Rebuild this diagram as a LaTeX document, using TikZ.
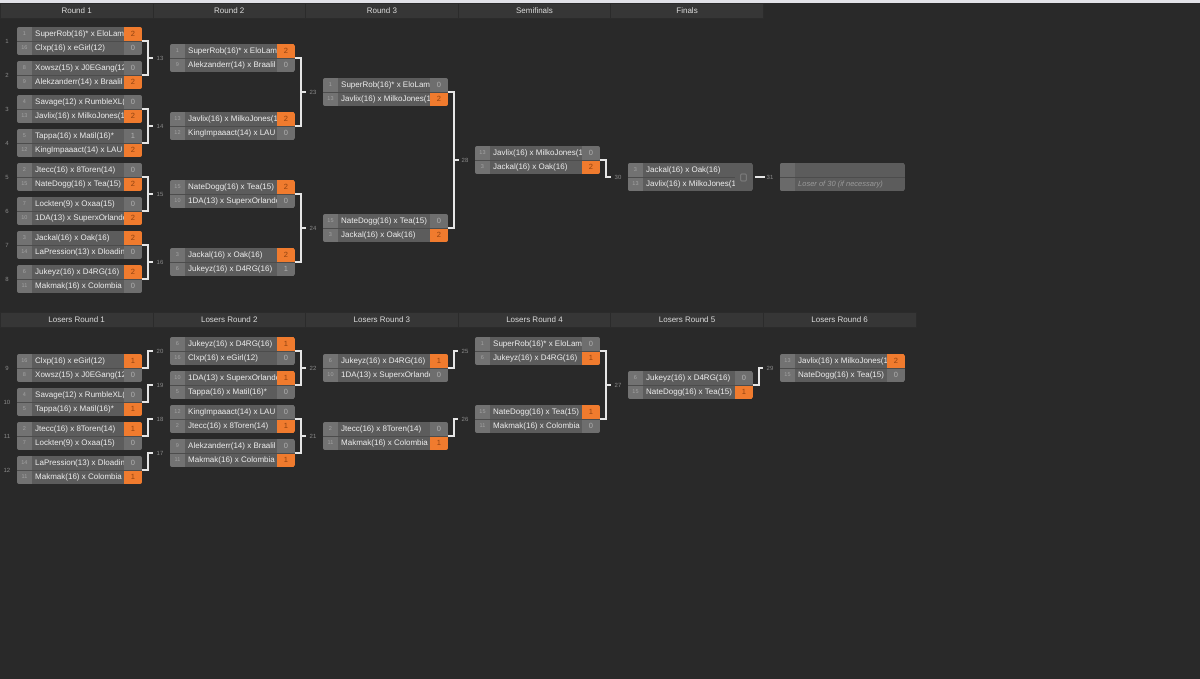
\documentclass[tikz,border=0pt]{standalone}
\usepackage{fontspec}
\setmainfont{Liberation Sans}
\usetikzlibrary{calc}
\definecolor{bg}{HTML}{292929}
\definecolor{topc}{HTML}{E2E2E8}
\definecolor{hdr}{HTML}{363636}
\definecolor{hdrline}{HTML}{2B2B2B}
\definecolor{seedc}{HTML}{727272}
\definecolor{namec}{HTML}{5C5C5C}
\definecolor{losec}{HTML}{6E6E6E}
\definecolor{winc}{HTML}{F07B2E}
\definecolor{wint}{HTML}{8F4210}
\definecolor{loset}{HTML}{B0B0B0}
\definecolor{seedt}{HTML}{A4A4A4}
\definecolor{namet}{HTML}{EEEEEE}
\definecolor{lblc}{HTML}{8A8A8A}
\definecolor{brk}{HTML}{E6E6E6}
\definecolor{sepc}{HTML}{4C4C4C}
\definecolor{hdrt}{HTML}{DCDCDC}
\definecolor{emptyseed}{HTML}{6A6A6A}
\definecolor{losert}{HTML}{9A9A9A}
\newcount\rowc
\tikzset{
  mbox/.style={anchor=north west, minimum width=125pt, minimum height=28pt, inner sep=0pt, outer sep=0pt},
  mlbl/.style={font=\fontsize{6}{7}\selectfont, text=lblc, inner sep=0pt},
  seedtext/.style={font=\fontsize{5.5}{6}\selectfont, text=seedt, inner sep=0pt},
  nametext/.style={anchor=base west, font=\fontsize{8}{9.6}\selectfont, text=namet, inner sep=0pt},
  wintext/.style={font=\fontsize{7.5}{8}\selectfont, text=wint, inner sep=0pt},
  losetext/.style={font=\fontsize{7.5}{8}\selectfont, text=loset, inner sep=0pt},
  bline/.style={draw=brk, line width=1.2pt},
  sepline/.style={draw=sepc, line width=0.6pt},
  hdrcell/.style={fill=hdr, draw=hdrline, line width=0.8pt, anchor=north west, minimum width=152.6pt, minimum height=15pt, inner sep=0pt, font=\fontsize{8}{9}\selectfont, text=hdrt},
}
\newcommand\mopen[3]{%
  \node[mbox] (m#1) at (#2,#3) {};
  \node[mlbl] (l#1) at ([xshift=-10pt]m#1.west) {#1};
  \begin{scope}
  \clip[rounded corners=2pt] (#2,#3) rectangle ++(125,28);
  \def\cx{#2}\def\cy{#3}%
}
\newcommand\mclose{\draw[sepline] (\cx,\cy+14) -- ++(125,0); \end{scope}}
\newcommand\mrow[5]{%
  \global\advance\rowc by 1\relax
  \fill[seedc] (\cx,\cy+#1) rectangle ++(15,14);
  \fill[namec] (\cx+15,\cy+#1) rectangle ++(92,14);
  \ifnum#5=1 
    \fill[winc] (\cx+107,\cy+#1) rectangle ++(18,14);
    \node[wintext] (c\the\rowc) at (\cx+116,\cy+#1+7) {#4};
  \else
    \fill[losec] (\cx+107,\cy+#1) rectangle ++(18,14);
    \node[losetext] (c\the\rowc) at (\cx+116,\cy+#1+7) {#4};
  \fi
  \node[seedtext] (s\the\rowc) at (\cx+7.5,\cy+#1+7) {#2};
  \begin{scope}
  \clip (\cx+15,\cy+#1) rectangle ++(91.5,14);
  \node[nametext] (n\the\rowc) at (\cx+18,\cy+#1+9.8) {#3};
  \end{scope}
}
\newcommand\pairbr[2]{%
  \draw[bline] (#1.east) -- ++(6,0) |- (#2.east);
  \draw[bline] ($(#1.east)!0.5!(#2.east)+(6,0)$) -- ++(5,0);
}
\newcommand\stepbr[2]{%
  \draw[bline] (#1.east) -- ++(6,0) |- ($(#2.west)+(-17,0)$);
}
\begin{document}
\begin{tikzpicture}[x={(1pt,0)}, y={(0,-1pt)}]
\useasboundingbox (0,0) rectangle (1200,679);
\fill[bg] (0,0) rectangle (1200,679);
\fill[topc] (0,0) rectangle (1200,3);
% headers
\node[hdrcell] (h1) at (0,3) {Round 1};
\node[hdrcell] (h2) at (152.6,3) {Round 2};
\node[hdrcell] (h3) at (305.2,3) {Round 3};
\node[hdrcell] (h4) at (457.8,3) {Semifinals};
\node[hdrcell] (h5) at (610.4,3) {Finals};
\node[hdrcell] (g1) at (0,312) {Losers Round 1};
\node[hdrcell] (g2) at (152.6,312) {Losers Round 2};
\node[hdrcell] (g3) at (305.2,312) {Losers Round 3};
\node[hdrcell] (g4) at (457.8,312) {Losers Round 4};
\node[hdrcell] (g5) at (610.4,312) {Losers Round 5};
\node[hdrcell] (g6) at (763,312) {Losers Round 6};
% ===== Winners round 1
\mopen{1}{17}{27}
\mrow{0}{1}{SuperRob(16)* x EloLam}{2}{1}
\mrow{14}{16}{Clxp(16) x eGirl(12)}{0}{0}
\mclose
\mopen{2}{17}{61}
\mrow{0}{8}{Xowsz(15) x J0EGang(12}{0}{0}
\mrow{14}{9}{Alekzanderr(14) x Braalil}{2}{1}
\mclose
\mopen{3}{17}{95}
\mrow{0}{4}{Savage(12) x RumbleXL(}{0}{0}
\mrow{14}{13}{Javlix(16) x MilkoJones(1}{2}{1}
\mclose
\mopen{4}{17}{129}
\mrow{0}{5}{Tappa(16) x Matil(16)*}{1}{0}
\mrow{14}{12}{KingImpaaact(14) x LAU}{2}{1}
\mclose
\mopen{5}{17}{163}
\mrow{0}{2}{Jtecc(16) x 8Toren(14)}{0}{0}
\mrow{14}{15}{NateDogg(16) x Tea(15)}{2}{1}
\mclose
\mopen{6}{17}{197}
\mrow{0}{7}{Lockten(9) x Oxaa(15)}{0}{0}
\mrow{14}{10}{1DA(13) x SuperxOrlando}{2}{1}
\mclose
\mopen{7}{17}{231}
\mrow{0}{3}{Jackal(16) x Oak(16)}{2}{1}
\mrow{14}{14}{LaPression(13) x Dloadin}{0}{0}
\mclose
\mopen{8}{17}{265}
\mrow{0}{6}{Jukeyz(16) x D4RG(16)}{2}{1}
\mrow{14}{11}{Makmak(16) x Colombia}{0}{0}
\mclose
% ===== Winners round 2
\mopen{13}{170}{44}
\mrow{0}{1}{SuperRob(16)* x EloLam}{2}{1}
\mrow{14}{9}{Alekzanderr(14) x Braalil}{0}{0}
\mclose
\mopen{14}{170}{112}
\mrow{0}{13}{Javlix(16) x MilkoJones(1}{2}{1}
\mrow{14}{12}{KingImpaaact(14) x LAU}{0}{0}
\mclose
\mopen{15}{170}{180}
\mrow{0}{15}{NateDogg(16) x Tea(15)}{2}{1}
\mrow{14}{10}{1DA(13) x SuperxOrlando}{0}{0}
\mclose
\mopen{16}{170}{248}
\mrow{0}{3}{Jackal(16) x Oak(16)}{2}{1}
\mrow{14}{6}{Jukeyz(16) x D4RG(16)}{1}{0}
\mclose
% ===== Winners round 3
\mopen{23}{323}{78}
\mrow{0}{1}{SuperRob(16)* x EloLam}{0}{0}
\mrow{14}{13}{Javlix(16) x MilkoJones(1}{2}{1}
\mclose
\mopen{24}{323}{214}
\mrow{0}{15}{NateDogg(16) x Tea(15)}{0}{0}
\mrow{14}{3}{Jackal(16) x Oak(16)}{2}{1}
\mclose
% ===== Semifinal
\mopen{28}{475}{146}
\mrow{0}{13}{Javlix(16) x MilkoJones(1}{0}{0}
\mrow{14}{3}{Jackal(16) x Oak(16)}{2}{1}
\mclose
% ===== Final 30
\node[mbox] (m30) at (628,163) {};
\node[mlbl] (l30) at ([xshift=-10pt]m30.west) {30};
\begin{scope}
\clip[rounded corners=2pt] (628,163) rectangle ++(125,28);
\fill[namec] (628,163) rectangle ++(125,28);
\fill[seedc] (628,163) rectangle ++(15,28);
\draw[sepline] (628,177) -- (735,177);
\node[seedtext] (s30a) at (635.5,170) {3};
\node[seedtext] (s30b) at (635.5,184) {13};
\begin{scope}
\clip (643,163) rectangle (734,191);
\node[nametext] (n30a) at (646,172.8) {Jackal(16) x Oak(16)};
\node[nametext] (n30b) at (646,186.8) {Javlix(16) x MilkoJones(1};
\end{scope}
\node[draw=lblc, line width=0.6pt, rounded corners=0.8pt, minimum width=5.5pt, minimum height=7pt, inner sep=0pt] (ic30) at (743.5,177.5) {};
\end{scope}
% ===== Final 31
\node[mbox] (m31) at (780,163) {};
\node[mlbl] (l31) at ([xshift=-10pt]m31.west) {31};
\begin{scope}
\clip[rounded corners=2pt] (780,163) rectangle ++(125,28);
\fill[namec] (780,163) rectangle ++(125,28);
\fill[emptyseed] (780,163) rectangle ++(15,28);
\draw[sepline] (780,177) -- ++(125,0);
\node[anchor=base west, font=\fontsize{7.5}{9}\selectfont\itshape, text=losert, inner sep=0pt] (n31b) at (798,186.5) {Loser of 30 (if necessary)};
\end{scope}
% ===== Losers round 1
\mopen{9}{17}{354}
\mrow{0}{16}{Clxp(16) x eGirl(12)}{1}{1}
\mrow{14}{8}{Xowsz(15) x J0EGang(12}{0}{0}
\mclose
\mopen{10}{17}{388}
\mrow{0}{4}{Savage(12) x RumbleXL(}{0}{0}
\mrow{14}{5}{Tappa(16) x Matil(16)*}{1}{1}
\mclose
\mopen{11}{17}{422}
\mrow{0}{2}{Jtecc(16) x 8Toren(14)}{1}{1}
\mrow{14}{7}{Lockten(9) x Oxaa(15)}{0}{0}
\mclose
\mopen{12}{17}{456}
\mrow{0}{14}{LaPression(13) x Dloadin}{0}{0}
\mrow{14}{11}{Makmak(16) x Colombia}{1}{1}
\mclose
% ===== Losers round 2
\mopen{20}{170}{337}
\mrow{0}{6}{Jukeyz(16) x D4RG(16)}{1}{1}
\mrow{14}{16}{Clxp(16) x eGirl(12)}{0}{0}
\mclose
\mopen{19}{170}{371}
\mrow{0}{10}{1DA(13) x SuperxOrlando}{1}{1}
\mrow{14}{5}{Tappa(16) x Matil(16)*}{0}{0}
\mclose
\mopen{18}{170}{405}
\mrow{0}{12}{KingImpaaact(14) x LAU}{0}{0}
\mrow{14}{2}{Jtecc(16) x 8Toren(14)}{1}{1}
\mclose
\mopen{17}{170}{439}
\mrow{0}{9}{Alekzanderr(14) x Braalil}{0}{0}
\mrow{14}{11}{Makmak(16) x Colombia}{1}{1}
\mclose
% ===== Losers round 3
\mopen{22}{323}{354}
\mrow{0}{6}{Jukeyz(16) x D4RG(16)}{1}{1}
\mrow{14}{10}{1DA(13) x SuperxOrlando}{0}{0}
\mclose
\mopen{21}{323}{422}
\mrow{0}{2}{Jtecc(16) x 8Toren(14)}{0}{0}
\mrow{14}{11}{Makmak(16) x Colombia}{1}{1}
\mclose
% ===== Losers round 4
\mopen{25}{475}{337}
\mrow{0}{1}{SuperRob(16)* x EloLam}{0}{0}
\mrow{14}{6}{Jukeyz(16) x D4RG(16)}{1}{1}
\mclose
\mopen{26}{475}{405}
\mrow{0}{15}{NateDogg(16) x Tea(15)}{1}{1}
\mrow{14}{11}{Makmak(16) x Colombia}{0}{0}
\mclose
% ===== Losers round 5
\mopen{27}{628}{371}
\mrow{0}{6}{Jukeyz(16) x D4RG(16)}{0}{0}
\mrow{14}{15}{NateDogg(16) x Tea(15)}{1}{1}
\mclose
% ===== Losers round 6
\mopen{29}{780}{354}
\mrow{0}{13}{Javlix(16) x MilkoJones(1}{2}{1}
\mrow{14}{15}{NateDogg(16) x Tea(15)}{0}{0}
\mclose
% ===== connectors (winners)
\pairbr{m1}{m2}
\pairbr{m3}{m4}
\pairbr{m5}{m6}
\pairbr{m7}{m8}
\pairbr{m13}{m14}
\pairbr{m15}{m16}
\pairbr{m23}{m24}
\stepbr{m28}{m30}
\draw[bline] ($(m30.east)+(2,0)$) -- ($(m31.west)+(-15,0)$);
% ===== connectors (losers)
\stepbr{m9}{m20}
\stepbr{m10}{m19}
\stepbr{m11}{m18}
\stepbr{m12}{m17}
\pairbr{m20}{m19}
\pairbr{m18}{m17}
\stepbr{m22}{m25}
\stepbr{m21}{m26}
\pairbr{m25}{m26}
\stepbr{m27}{m29}
\end{tikzpicture}
\end{document}
